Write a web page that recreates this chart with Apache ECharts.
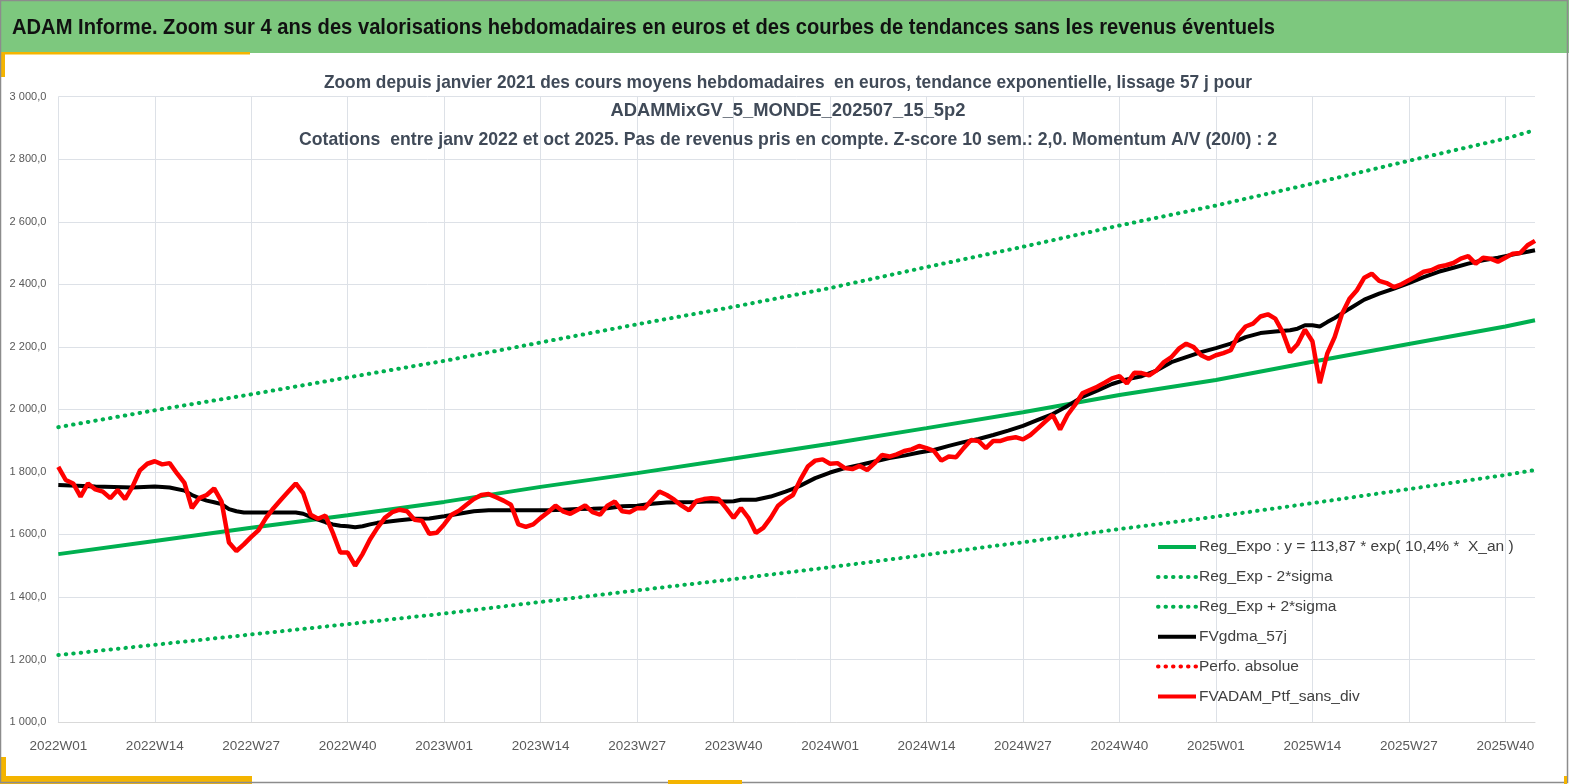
<!DOCTYPE html>
<html><head><meta charset="utf-8">
<script src="https://cdn.jsdelivr.net/npm/echarts@6/dist/echarts.min.js"></script>
<style>html,body{margin:0;padding:0;background:#fff}#c{width:1569px;height:784px}</style>
</head><body><div id="c"></div>
<script>
// ---------- texts ----------
const titleText = "ADAM Informe. Zoom sur 4 ans des valorisations hebdomadaires en euros et des courbes de tendances sans les revenus éventuels";
const subtitleLines = [
  "Zoom depuis janvier 2021 des cours moyens hebdomadaires  en euros, tendance exponentielle, lissage 57 j pour",
  "ADAMMixGV_5_MONDE_202507_15_5p2",
  "Cotations  entre janv 2022 et oct 2025. Pas de revenus pris en compte. Z-score 10 sem.: 2,0. Momentum A/V (20/0) : 2"
];
const seriesNames = [
  "Reg_Expo : y = 113,87 * exp( 10,4% *  X_an )",
  "Reg_Exp - 2*sigma",
  "Reg_Exp + 2*sigma",
  "FVgdma_57j",
  "Perfo. absolue",
  "FVADAM_Ptf_sans_div"
];

// ---------- axes ----------
const yMin = 1000, yMax = 3000, yStep = 200;
const weeksPerYear = [[2022, 52], [2023, 52], [2024, 52], [2025, 44]];
const categories = [];
weeksPerYear.forEach(([yr, n]) => { for (let w = 1; w <= n; w++) categories.push(yr + "W" + String(w).padStart(2, "0")); });

// ---------- data ----------
// [week index, value]
const regExpo = [[0,1537],[13,1579],[26,1621],[39,1661],[52,1704],[65,1752],[78,1796],[91,1843],[104,1890],[117,1940],[130,1991],[143,2046],[156,2094],[169,2152],[182,2209],[195,2265],[199,2285]];
const regMinus = [[0,1214],[13,1247],[26,1280],[39,1313],[52,1347],[65,1384],[78,1421],[91,1457],[104,1495],[117,1535],[130,1575],[143,1617],[156,1657],[169,1700],[182,1745],[195,1790],[199,1806]];
const regPlus = [[0,1943],[13,1997],[26,2048],[39,2102],[52,2155],[65,2214],[78,2272],[91,2328],[104,2388],[117,2455],[130,2520],[143,2588],[156,2652],[169,2722],[182,2795],[195,2866],[199,2893]];
const gdma57 = [[0,1758],[5,1753],[10,1750],[13,1753],[15,1750],[17,1740],[18,1726],[19,1716],[20,1708],[21,1703],[22,1697],[23,1681],[24,1674],[25,1670],[32,1670],[33,1666],[34,1656],[35,1647],[36,1639],[37,1632],[38,1628],[39,1626],[40,1623],[41,1626],[42,1632],[43,1637],[44,1640],[46,1645],[48,1650],[50,1651],[52,1658],[54,1666],[56,1674],[58,1677],[66,1677],[68,1679],[70,1681],[72,1682],[74,1684],[76,1690],[78,1692],[80,1698],[82,1702],[84,1703],[86,1704],[88,1706],[90,1705],[91,1706],[92,1711],[94,1711],[96,1721],[98,1737],[99,1746],[100,1756],[101,1768],[102,1780],[104,1798],[106,1812],[108,1822],[110,1833],[112,1844],[114,1852],[116,1862],[118,1870],[120,1883],[122,1895],[124,1905],[126,1918],[128,1932],[130,1947],[132,1966],[134,1985],[136,2011],[138,2040],[140,2060],[142,2081],[144,2096],[146,2106],[148,2124],[150,2151],[152,2167],[154,2183],[156,2196],[158,2210],[160,2231],[162,2244],[164,2249],[166,2253],[167,2258],[168,2269],[169,2269],[170,2265],[171,2279],[172,2292],[174,2322],[176,2351],[178,2370],[180,2386],[182,2404],[184,2423],[186,2440],[188,2453],[190,2466],[192,2477],[194,2485],[196,2495],[198,2504],[199,2509]];
const perfoAbsolue = [];
const ptfSansDiv = [1816,1774,1763,1721,1763,1744,1737,1716,1742,1713,1753,1805,1826,1834,1824,1828,1795,1765,1684,1716,
1726,1747,1705,1574,1547,1568,1592,1614,1653,1684,1711,1737,1763,1732,1663,1650,1660,1605,1542,1542,
1500,1537,1584,1621,1653,1671,1679,1674,1647,1644,1602,1605,1632,1663,1676,1695,1713,1726,1729,1719,
1708,1695,1632,1624,1632,1653,1671,1692,1674,1666,1679,1693,1671,1663,1692,1705,1674,1671,1684,1684,
1711,1737,1726,1711,1692,1677,1707,1713,1716,1713,1684,1653,1684,1653,1605,1621,1653,1692,1711,1726,
1775,1817,1836,1840,1826,1828,1812,1809,1819,1806,1828,1854,1849,1856,1867,1872,1883,1876,1867,1836,
1849,1847,1876,1902,1899,1876,1899,1899,1907,1911,1904,1918,1939,1961,1982,1936,1982,2014,2051,2062,
2072,2085,2099,2106,2083,2117,2116,2109,2125,2151,2167,2194,2210,2199,2173,2162,2173,2180,2189,2237,
2265,2274,2297,2304,2290,2247,2183,2208,2255,2218,2084,2178,2231,2306,2354,2381,2421,2434,2411,2404,
2391,2400,2413,2426,2440,2445,2456,2461,2468,2482,2490,2466,2485,2482,2472,2485,2498,2500,2525,2539];

// ---------- helpers ----------
const FONT = '"Liberation Sans", Arial, sans-serif';
const measureCtx = document.createElement('canvas').getContext('2d');
function fitScale(text, font, target) {
  measureCtx.font = font;
  return target / measureCtx.measureText(text).width;
}
function fmtY(v) {
  return String(Math.round(v)).replace(/\B(?=(\d{3})+(?!\d))/g, ' ') + ',0';
}

const titleFont = 'bold 22px "Liberation Sans", Arial, sans-serif';
const subFont = 'bold 19px "Liberation Sans", Arial, sans-serif';
const subTargets = [928, 355, 978];
const subY = [83, 111, 140];

const graphics = [
  { type: 'rect', shape: { x: 0, y: 0, width: 1569, height: 53 }, style: { fill: '#7DC87E' }, z: 0 },
  { type: 'rect', shape: { x: 0, y: 52, width: 250, height: 2.5 }, style: { fill: '#F4B400' }, z: 1 },
  { type: 'rect', shape: { x: 0, y: 52, width: 5, height: 25 }, style: { fill: '#F4B400' }, z: 1 },
  { type: 'rect', shape: { x: 0, y: 757, width: 6, height: 27 }, style: { fill: '#F4B400' }, z: 1 },
  { type: 'rect', shape: { x: 0, y: 776, width: 252, height: 8 }, style: { fill: '#F4B400' }, z: 1 },
  { type: 'rect', shape: { x: 668, y: 780, width: 74, height: 4 }, style: { fill: '#F4B400' }, z: 3 },
  { type: 'rect', shape: { x: 1564, y: 776, width: 3, height: 8 }, style: { fill: '#F4B400' }, z: 3 },
  { type: 'rect', shape: { x: 0.5, y: 0.5, width: 1567, height: 782 }, style: { fill: null, stroke: '#8C8C8C', lineWidth: 1.5 }, z: 2 },
  { type: 'text', x: 12, y: 28, scaleX: fitScale(titleText, titleFont, 1263), z: 3,
    style: { text: titleText, font: titleFont, fill: '#111111', textAlign: 'left', textVerticalAlign: 'middle' } }
];
subtitleLines.forEach((t, i) => {
  graphics.push({ type: 'text', x: 788, y: subY[i], scaleX: fitScale(t, subFont, subTargets[i]), z: 3,
    style: { text: t, font: subFont, fill: '#404A58', textAlign: 'center', textVerticalAlign: 'middle' } });
});

const dots = [0.5, 7];
const chart = echarts.init(document.getElementById('c'), null, { renderer: 'canvas' });
chart.setOption({
  backgroundColor: '#ffffff',
  animation: false,
  graphic: graphics,
  grid: { left: 58.3, right: 34, top: 96.7, bottom: 62, containLabel: false },
  legend: {
    orient: 'vertical', left: 1156, top: 539, padding: 0,
    itemWidth: 38, itemHeight: 14, itemGap: 13.9,
    itemStyle: { opacity: 0 },
    lineStyle: { width: 4 },
    textStyle: { fontFamily: FONT, fontSize: 15.5, color: '#404040', padding: [0, 0, 0, -2] },
    data: seriesNames
  },
  xAxis: {
    type: 'category', data: categories, boundaryGap: false,
    axisLine: { lineStyle: { color: '#D9D9D9', width: 1 } },
    axisTick: { show: false },
    axisLabel: { interval: 12, color: '#595959', fontFamily: FONT, fontSize: 13.5, margin: 17 },
    splitLine: { show: true, interval: 12, lineStyle: { color: '#DDE1E7', width: 1 } }
  },
  yAxis: {
    type: 'value', min: yMin, max: yMax, interval: yStep,
    axisLine: { show: false }, axisTick: { show: false },
    axisLabel: { formatter: fmtY, color: '#595959', fontFamily: FONT, fontSize: 11, margin: 12 },
    splitLine: { lineStyle: { color: '#DDE1E7', width: 1 } }
  },
  series: [
    { name: seriesNames[0], type: 'line', data: regExpo, symbol: 'none', lineStyle: { color: '#00B050', width: 4 }, itemStyle: { color: '#00B050' } },
    { name: seriesNames[1], type: 'line', data: regMinus, symbol: 'none', lineStyle: { color: '#00B050', width: 4, type: dots, cap: 'round' }, itemStyle: { color: '#00B050' } },
    { name: seriesNames[2], type: 'line', data: regPlus, symbol: 'none', lineStyle: { color: '#00B050', width: 4, type: dots, cap: 'round' }, itemStyle: { color: '#00B050' } },
    { name: seriesNames[3], type: 'line', data: gdma57, symbol: 'none', lineStyle: { color: '#000000', width: 4 }, itemStyle: { color: '#000000' } },
    { name: seriesNames[4], type: 'line', data: perfoAbsolue, symbol: 'none', lineStyle: { color: '#FF0000', width: 4, type: dots, cap: 'round' }, itemStyle: { color: '#FF0000' } },
    { name: seriesNames[5], type: 'line', data: ptfSansDiv, symbol: 'none', lineStyle: { color: '#FF0000', width: 4.5 }, itemStyle: { color: '#FF0000' } }
  ]
});
</script>
</body></html>
